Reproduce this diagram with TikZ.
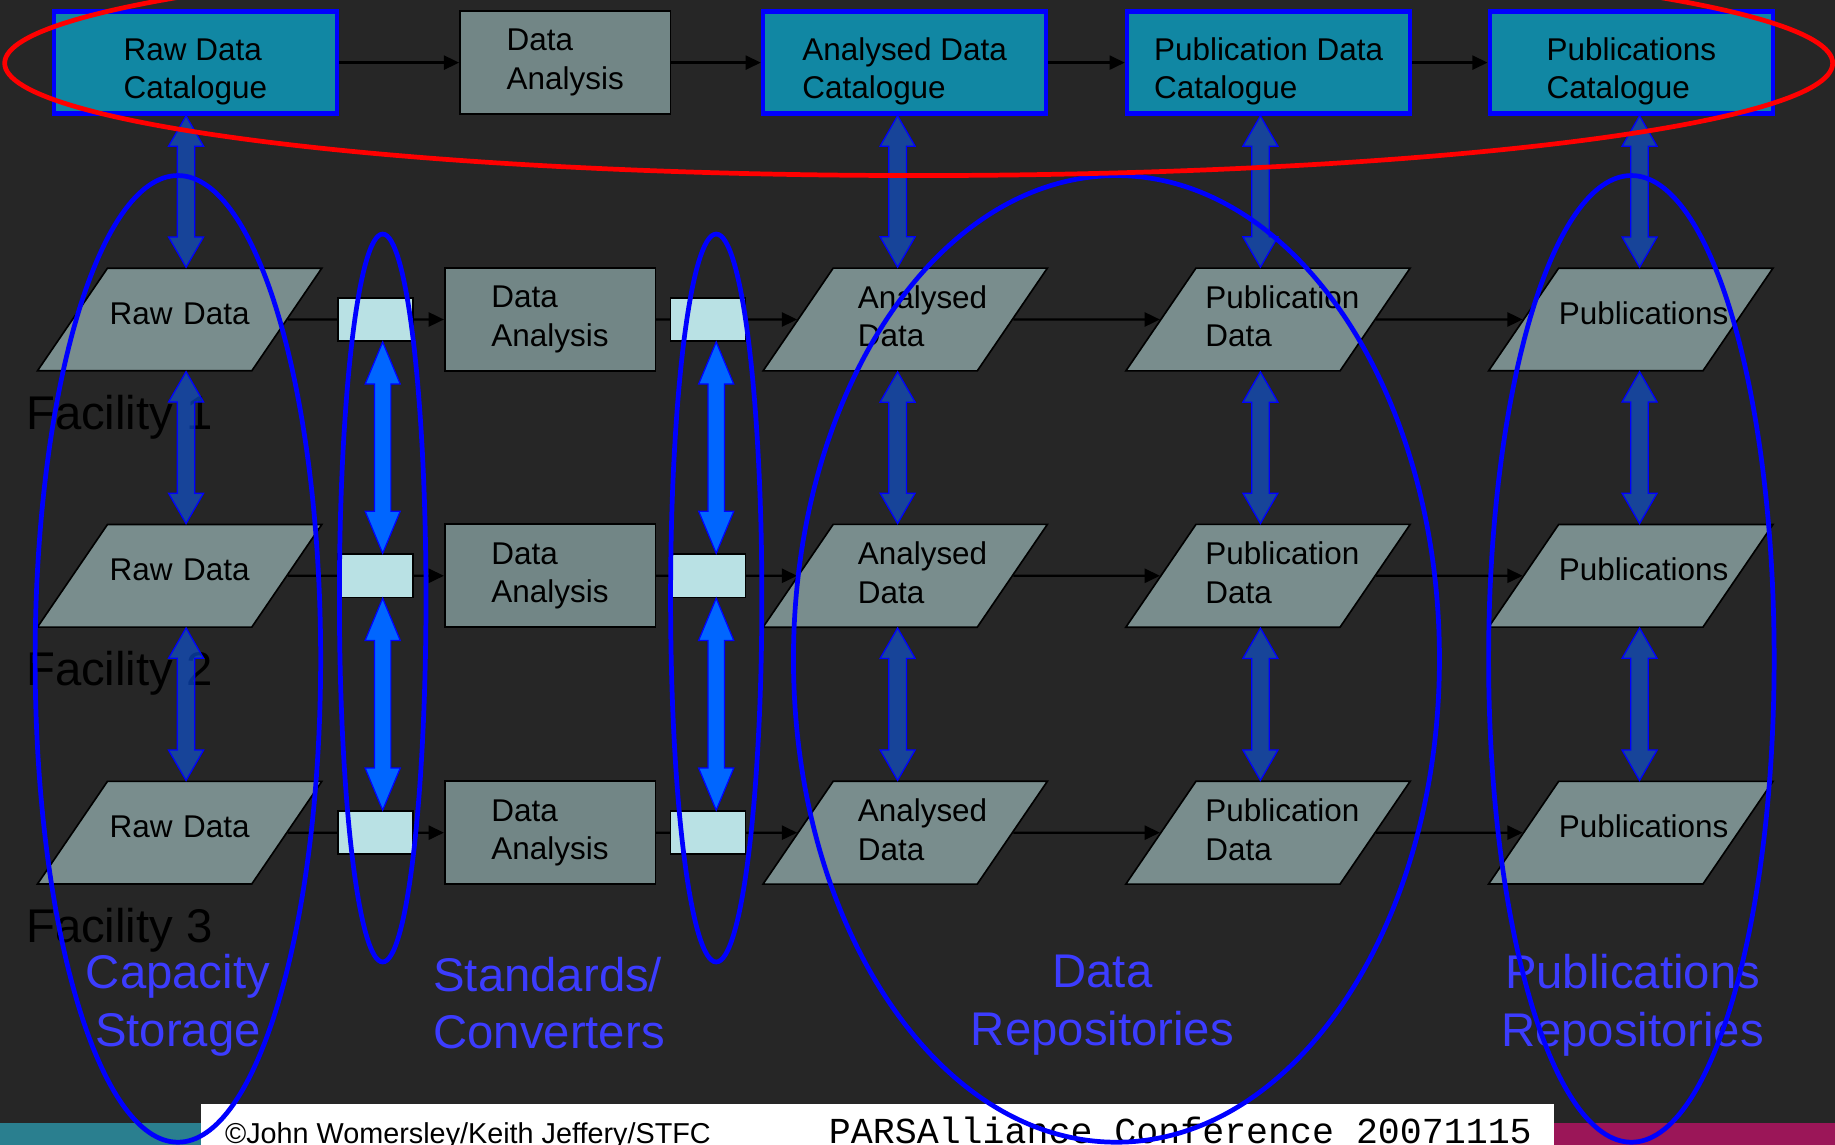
\documentclass[tikz,border=0pt]{standalone}
\usepackage{fontspec}
\setmainfont{Liberation Sans}
\newfontfamily\footmono{Liberation Mono}
\usetikzlibrary{arrows.meta,calc,positioning,shapes.geometric}
\definecolor{slidebg}{HTML}{262626}
\definecolor{catfill}{HTML}{1187A3}
\definecolor{paragray}{HTML}{798D8D}
\definecolor{boxgray}{HTML}{728686}
\definecolor{convcyan}{HTML}{B9E1E4}
\definecolor{ringblue}{HTML}{0000FF}
\definecolor{ringred}{HTML}{FF0000}
\definecolor{dkblue}{HTML}{0D58E7}
\definecolor{brblue}{HTML}{0066FF}
\definecolor{grpblue}{HTML}{3C3CFF}
\definecolor{footteal}{HTML}{2A7F8F}
\definecolor{footmag}{HTML}{9B1658}
\newcommand{\boxfont}{\fontsize{15.3}{18.7}\selectfont}
\newcommand{\grpfont}{\fontsize{23}{28}\selectfont}
\newcommand{\facfont}{\fontsize{23}{28}\selectfont}
\newcommand{\footsans}{\fontsize{14}{16}\selectfont}
\newcommand{\footmonofont}{\footmono\fontsize{17.8}{20}\selectfont}
\tikzset{
	ba shaft/.store in=\bashaft,
	ba shaft=0.15cm,
	ba head/.store in=\bahead,
	ba head=0.3cm,
	ba len/.store in=\balen,
	ba len=0.52cm,
	dkarrow/.style={draw=ringblue,line width=0.6pt,fill=dkblue,fill opacity=0.6,
		ba shaft=0.15cm,ba head=0.3cm,ba len=0.52cm},
	brarrow/.style={draw=ringblue,line width=0.6pt,fill=brblue,
		ba shaft=0.14cm,ba head=0.3cm,ba len=0.72cm}
}
\newcommand{\vdarrow}[3]{%
	\path[#1] let \p1=(#2), \p2=(#3) in
		(\x1,\y1) -- (\x1+\bahead,\y1-\balen) -- (\x1+\bashaft,\y1-\balen)
		-- (\x1+\bashaft,\y2+\balen) -- (\x1+\bahead,\y2+\balen) -- (\x1,\y2)
		-- (\x1-\bahead,\y2+\balen) -- (\x1-\bashaft,\y2+\balen)
		-- (\x1-\bashaft,\y1-\balen) -- (\x1-\bahead,\y1-\balen) -- cycle;}

\begin{document}
\begin{tikzpicture}[x=0.02cm,y=-0.02cm,every node/.style={inner sep=0pt},
	cat/.style={draw=ringblue,line width=2.2pt,fill=catfill,minimum width=4.84cm,
		minimum height=1.74cm,text height=42.3pt,text depth=7pt,align=left,font=\boxfont},
	box/.style={draw=black,line width=0.8pt,fill=boxgray,minimum width=3.6cm,
		minimum height=1.76cm,align=left,font=\boxfont},
	para/.style={trapezium,trapezium left angle=55.7,trapezium right angle=124.3,
		trapezium stretches body=true,minimum width=4.86cm,
		text height=27.4pt,text depth=22.5pt,text width=2.46cm,align=center,
		draw=black,line width=0.8pt,fill=paragray,font=\boxfont},
	two lines/.style={text height=19.6pt,text depth=30.4pt,text width=#1,align=left},
	conv/.style={draw=black,line width=0.8pt,fill=convcyan,minimum width=1.28cm,minimum height=0.74cm},
	flow/.style={draw=black,line width=1.1pt,-{Triangle[length=0.26cm,width=0.24cm]}},
	facility/.style={anchor=base west,font=\facfont,text=black},
	group/.style={font=\grpfont,text=grpblue,align=center},
	ring/.style={draw=ringblue,line width=2.3pt}]
	\useasboundingbox (0,0) rectangle (1568,978);
	\clip (0,0) rectangle (1568,978);
	\fill[slidebg] (0,0) rectangle (1568,978);
	\fill[footteal] (0,960) rectangle (172,978);
	\fill[footmag] (1328,960) rectangle (1568,978);
	\fill[white] (172,943) rectangle (1328,990);
	\node[anchor=base west,font=\footsans] (credit) at (192,977.5) {©John Womersley/Keith Jeffery/STFC};
	\node[anchor=base west,font=\footmonofont] (conf) at (708,977.5) {PARSAlliance Conference 20071115};
	\foreach \r/\y in {1/367,2/586,3/805}
		\node[facility] (F\r) at (22,\y) {Facility \r};
	\node[group] (storage) at (152,859) {Capacity\\Storage};
	\node[group,anchor=west,align=left] (std) at (370,857) {Standards/\\Converters};
	\node[group] (repo) at (942,859) {Data\\Repositories};
	\node[group] (pubrepo) at (1395,859) {Publications\\Repositories};
	\node[cat] (RDC) at (167,53.5) {Raw Data\\Catalogue};
	\node[box] (TDA) at (483,53.5) {Data\\Analysis};
	\node[cat] (ADC) at (773,53.5) {Analysed Data\\Catalogue};
	\node[cat] (PDC) at (1084,53.5) {Publication Data\\Catalogue};
	\node[cat] (PC) at (1394,53.5) {Publications\\Catalogue};
	\draw[flow] (RDC) -- (TDA);
	\draw[flow] (TDA) -- (ADC);
	\draw[flow] (ADC) -- (PDC);
	\draw[flow] (PDC) -- (PC);
	\foreach \r/\y in {1/273,2/492,3/711.5} {
		\node[para] (RD\r) at (153.5,\y) {Raw Data};
		\node[box] (DA\r) at (470,\y) {Data\\Analysis};
		\node[para,two lines=1.62cm] (AD\r) at (773.5,\y) {Analysed\\Data};
		\node[para,two lines=2.14cm] (PD\r) at (1083.5,\y) {Publication\\Data};
		\node[para] (P\r) at (1393.5,\y) {Publications};
		\draw[flow] (RD\r) -- (DA\r);
		\draw[flow] (DA\r) -- (AD\r);
		\draw[flow] (AD\r) -- (PD\r);
		\draw[flow] (PD\r) -- (P\r);
		\node[conv] (CA\r) at (321,\y) {};
		\node[conv] (CB\r) at (605,\y) {};
	}
	\foreach \ct/\col/\ax in {RDC/RD/159,ADC/AD/767,PDC/PD/1077,PC/P/1401} {
		\coordinate (ax\col) at (\ax,0);
		\vdarrow{dkarrow}{ax\col |- \ct.south}{ax\col |- \col1.north}
		\vdarrow{dkarrow}{ax\col |- \col1.south}{ax\col |- \col2.north}
		\vdarrow{dkarrow}{ax\col |- \col2.south}{ax\col |- \col3.north}
	}
	\foreach \cv/\ax in {CA/327,CB/612} {
		\coordinate (bx\cv) at (\ax,0);
		\vdarrow{brarrow}{bx\cv |- \cv1.south}{bx\cv |- \cv2.north}
		\vdarrow{brarrow}{bx\cv |- \cv2.south}{bx\cv |- \cv3.north}
	}
	\draw[ring] (152,563) ellipse [x radius=122, y radius=413];
	\draw[ring] (327,511) ellipse [x radius=37, y radius=311];
	\draw[ring] (612,511) ellipse [x radius=39, y radius=311];
	\draw[ring] (954,563) ellipse [x radius=276, y radius=413];
	\draw[ring] (1394,563) ellipse [x radius=122, y radius=413];
	\draw[ring,draw=ringred] (785,54) ellipse [x radius=781, y radius=96];
\end{tikzpicture}
\end{document}
